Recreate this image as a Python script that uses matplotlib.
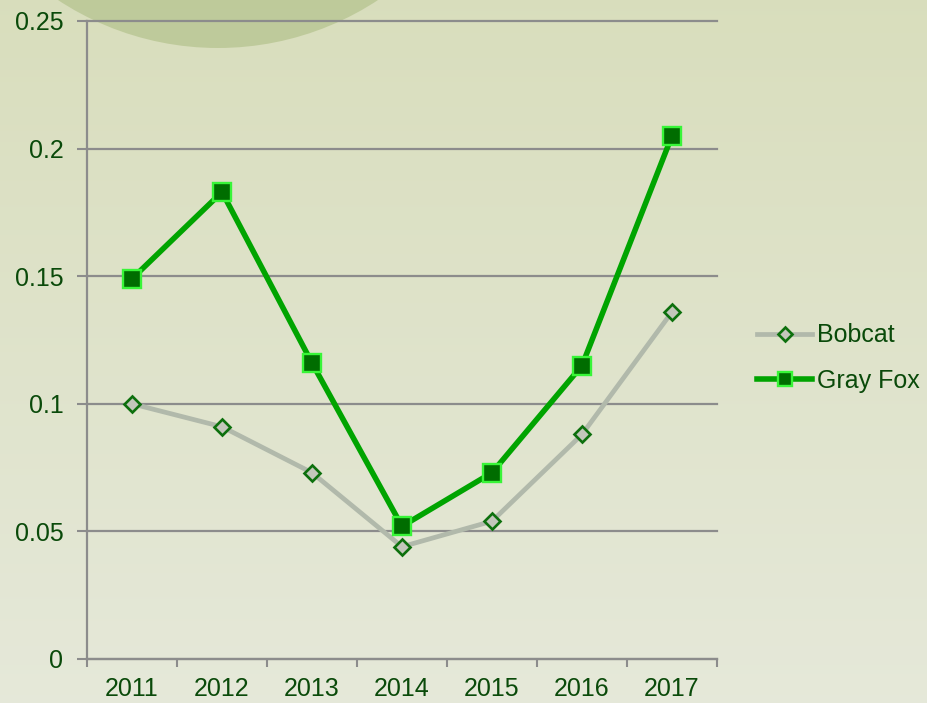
#!/usr/bin/env python3

import numpy as np
import matplotlib

matplotlib.use("Agg")
import matplotlib.pyplot as plt
from matplotlib.patches import Circle

years = ["2011", "2012", "2013", "2014", "2015", "2016", "2017"]
bobcat = [0.100, 0.091, 0.073, 0.044, 0.054, 0.088, 0.136]
gray_fox = [0.149, 0.183, 0.116, 0.052, 0.073, 0.115, 0.205]
y_ticks = [0, 0.05, 0.1, 0.15, 0.2, 0.25]
y_labels = ["0", "0.05", "0.1", "0.15", "0.2", "0.25"]

TEXT = "#0a4a0a"
GRID = "#8c8c8c"


def main() -> None:
    plt.rcParams["font.family"] = ["Liberation Sans", "DejaVu Sans"]

    fig = plt.figure(figsize=(9.27, 7.03), dpi=100)

    # textured green background, approximated with a gradient and the faint logo disc
    bg = fig.add_axes([0, 0, 1, 1], zorder=-10)
    top = np.array([0.850, 0.870, 0.740])
    bottom = np.array([0.900, 0.912, 0.852])
    t = np.linspace(0, 1, 256)[:, None]
    grad = top * (1 - t) + bottom * t
    bg.imshow(grad[:, None, :].repeat(2, axis=1), aspect="auto",
              extent=[0, 927, 703, 0])
    bg.add_patch(Circle((218, -243), 291, color="#bac795", alpha=0.85, lw=0))
    bg.set_xlim(0, 927)
    bg.set_ylim(703, 0)
    bg.axis("off")

    ax = fig.add_axes([87 / 927, 44 / 703, 630 / 927, 638 / 703])
    ax.set_facecolor("none")
    x = np.arange(len(years))

    ax.plot(x, bobcat, color="#b1b9ab", lw=3.4, marker="D", markersize=8.6,
            markerfacecolor="#c3c6bb", markeredgecolor="#0d700d",
            markeredgewidth=1.9, label="Bobcat", zorder=3, clip_on=False)
    ax.plot(x, gray_fox, color="#00a400", lw=4.0, marker="s", markersize=12.3,
            markerfacecolor="#006d00", markeredgecolor="#38f538",
            markeredgewidth=1.7, label="Gray Fox", zorder=4, clip_on=False)

    ax.set_xlim(-0.5, len(years) - 0.5)
    ax.set_ylim(0, 0.25)
    ax.set_yticks(y_ticks)
    ax.set_yticklabels(y_labels)
    ax.set_xticks(x)
    ax.set_xticklabels(years)
    ax.set_xticks(np.arange(-0.5, len(years)), minor=True)

    ax.tick_params(axis="x", which="major", length=0, pad=13,
                   labelsize=18, labelcolor=TEXT)
    ax.tick_params(axis="x", which="minor", length=6, width=1.5,
                   color=GRID, direction="out")
    ax.tick_params(axis="y", length=7, width=1.5, color=GRID, pad=10,
                   labelsize=18, labelcolor=TEXT)

    ax.yaxis.grid(True, color=GRID, lw=1.6)
    ax.set_axisbelow(True)
    for side in ("top", "right"):
        ax.spines[side].set_visible(False)
    for side in ("left", "bottom"):
        ax.spines[side].set_color(GRID)
        ax.spines[side].set_linewidth(1.6)
    for line in ax.get_ygridlines():
        line.set_clip_on(False)

    fig.legend(loc="center left", bbox_to_anchor=(757 / 927, 1 - 358 / 703),
               frameon=False, fontsize=18, labelcolor=TEXT,
               handlelength=2.2, handletextpad=0.2, labelspacing=0.85,
               markerscale=0.85, borderpad=0, borderaxespad=0)

    fig.savefig("out.png", dpi=100)


if __name__ == "__main__":
    main()
